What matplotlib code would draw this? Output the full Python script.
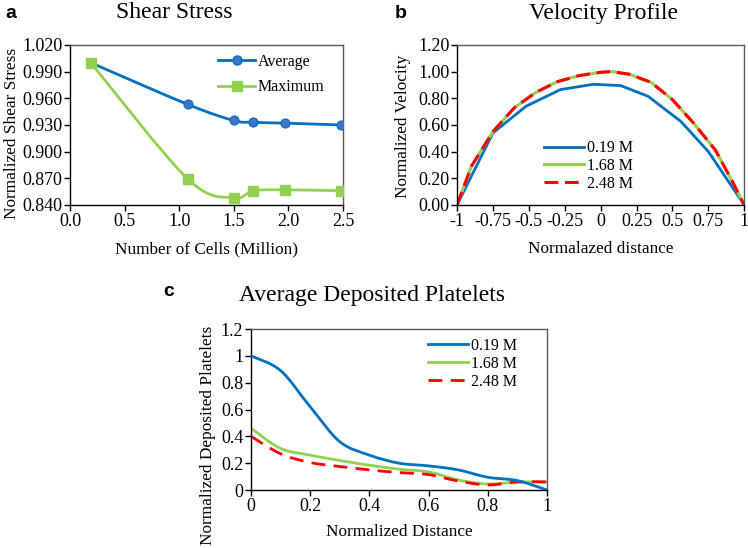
import numpy as np
import matplotlib
matplotlib.use("Agg")
import matplotlib.pyplot as plt
from matplotlib.path import Path
from matplotlib.patches import PathPatch
from matplotlib.lines import Line2D

plt.rcParams['font.family'] = ['Liberation Serif', 'DejaVu Serif']
plt.rcParams['axes.unicode_minus'] = False

# (a) shear stress vs mesh size
cells = [0.19, 1.08, 1.50, 1.68, 1.97, 2.48]
shear_avg = [1.000, 0.953, 0.935, 0.933, 0.932, 0.930]
shear_max = [1.000, 0.869, 0.848, 0.856, 0.857, 0.856]

# (b) velocity profile
vel_x_019 = [-1.0, -0.75, -0.52, -0.28, -0.05, 0.14, 0.33, 0.56, 0.75, 1.0]
vel_019 = [0.0, 0.54, 0.74, 0.865, 0.905, 0.895, 0.815, 0.625, 0.40, 0.0]
vel_x = [-1.0, -0.9, -0.75, -0.6, -0.45, -0.3, -0.15, 0.0, 0.08, 0.2, 0.35, 0.5, 0.65, 0.8, 0.92, 1.0]
vel_168 = [0.0, 0.29, 0.55, 0.73, 0.845, 0.925, 0.97, 0.995, 1.0, 0.98, 0.92, 0.79, 0.61, 0.41, 0.17, 0.0]
vel_248 = [0.0, 0.29, 0.55, 0.73, 0.845, 0.925, 0.97, 0.995, 1.0, 0.98, 0.92, 0.79, 0.61, 0.41, 0.17, 0.0]

# (c) deposited platelets
dist = [0.0, 0.1, 0.2, 0.3, 0.4, 0.5, 0.6, 0.7, 0.8, 0.9, 1.0]
plt_019 = [1.0, 0.89, 0.62, 0.36, 0.26, 0.20, 0.18, 0.15, 0.095, 0.07, 0.0]
plt_168 = [0.46, 0.31, 0.26, 0.22, 0.185, 0.155, 0.135, 0.075, 0.045, 0.06, 0.06]
plt_248 = [0.40, 0.27, 0.205, 0.175, 0.15, 0.13, 0.115, 0.067, 0.038, 0.06, 0.06]

blue = '#0070C0'
blue_mk = '#4472C4'
green = '#92D050'
red = '#FF0000'


def smooth_line(ax, x, y, **kw):
    # Excel style smoothed line: cubic bezier through the points
    x = np.asarray(x, float)
    y = np.asarray(y, float)
    p = np.column_stack([x, y])
    n = len(p)
    verts = [p[0]]
    codes = [Path.MOVETO]
    for i in range(n - 1):
        p0 = p[i - 1] if i > 0 else p[i]
        p3 = p[i + 2] if i + 2 < n else p[i + 1]
        c1 = p[i] + (p[i + 1] - p0) / 6
        c2 = p[i + 1] - (p3 - p[i]) / 6
        verts += [c1, c2, p[i + 1]]
        codes += [Path.CURVE4] * 3
    patch = PathPatch(Path(verts, codes), fill=False, **kw)
    ax.add_patch(patch)
    return patch


def style_axes(ax):
    for s in ['left', 'bottom']:
        ax.spines[s].set_color('#000000')
    for s in ['top', 'right']:
        ax.spines[s].set_color('#595959')
    for s in ax.spines.values():
        s.set_linewidth(1.0)
    ax.tick_params(direction='out', length=4, width=1, labelsize=13, pad=1.5)


LAB = 12.4
fig = plt.figure(figsize=(7.48, 5.48), dpi=100)

# ---------- a ----------
ax1 = fig.add_axes([0.0936, 0.626, 0.365, 0.292])
smooth_line(ax1, cells, shear_avg, edgecolor=blue, lw=2.0, zorder=2)
smooth_line(ax1, cells, shear_max, edgecolor=green, lw=2.0, zorder=2)
ax1.plot(cells, shear_avg, 'o', ms=6.5, mfc=blue_mk, mec=blue, mew=0.8, zorder=3)
ax1.plot(cells, shear_max, 's', ms=6.5, mfc=green, mec=green, zorder=3)
ax1.set_xlim(0, 2.5)
ax1.set_ylim(0.84, 1.02)
ax1.set_xticks(np.arange(0, 2.51, 0.5))
ax1.set_yticks(np.arange(0.84, 1.021, 0.03))
ax1.xaxis.set_major_formatter('{x:.1f}')
ax1.yaxis.set_major_formatter('{x:.3f}')
style_axes(ax1)
ax1.set_xlabel('Number of Cells (Million)', fontsize=LAB)
ax1.set_ylabel('Normalized Shear Stress', fontsize=LAB)
ax1.xaxis.set_label_coords(0.5, -0.225)
ax1.yaxis.set_label_coords(-0.185, 0.45)
h1 = [Line2D([], [], color=blue, lw=2, marker='o', ms=6.5, mfc=blue_mk, mec=blue),
      Line2D([], [], color=green, lw=2, marker='s', ms=6.5, mfc=green, mec=green)]
ax1.legend(h1, ['Average', 'Maximum'], loc='upper left', frameon=False,
           fontsize=11.5, handlelength=2.3, borderaxespad=0, labelspacing=0.6,
           handletextpad=0.15, bbox_to_anchor=(0.52, 0.985))

# ---------- b ----------
ax2 = fig.add_axes([0.611, 0.626, 0.384, 0.292])
ax2.plot(vel_x_019, vel_019, color=blue, lw=2.0, label='0.19 M')
ax2.plot(vel_x, vel_168, color=green, lw=2.2, label='1.68 M')
ax2.plot(vel_x, vel_248, color=red, lw=2.2, dashes=(4.5, 2.2), label='2.48 M')
ax2.set_xlim(-1, 1)
ax2.set_ylim(0, 1.2)
bx = [-1, -0.75, -0.5, -0.25, 0, 0.25, 0.5, 0.75, 1]
ax2.set_xticks(bx)
ax2.set_xticklabels(['-1', '-0.75', '-0.5', '-0.25', '0', '0.25', '0.5', '0.75', '1'])
ax2.set_yticks(np.arange(0, 1.21, 0.2))
ax2.yaxis.set_major_formatter('{x:.2f}')
style_axes(ax2)
ax2.set_xlabel('Normalazed distance', fontsize=LAB)
ax2.set_ylabel('Normalized Velocity', fontsize=LAB)
ax2.xaxis.set_label_coords(0.5, -0.225)
ax2.yaxis.set_label_coords(-0.16, 0.49)
ax2.legend(loc='upper left', bbox_to_anchor=(0.28, 0.445), frameon=False, borderaxespad=0,
           fontsize=11.5, handlelength=2.5, labelspacing=0.12, handletextpad=0.2)

# ---------- c ----------
ax3 = fig.add_axes([0.3356, 0.1058, 0.3957, 0.2938])
smooth_line(ax3, dist, plt_019, edgecolor=blue, lw=2.0, zorder=3)
smooth_line(ax3, dist, plt_168, edgecolor=green, lw=2.0, zorder=2)
smooth_line(ax3, dist, plt_248, edgecolor=red, lw=2.0, linestyle=(0, (5, 3)), zorder=2)
ax3.set_xlim(0, 1)
ax3.set_ylim(0, 1.2)
ax3.set_xticks([0, 0.2, 0.4, 0.6, 0.8, 1.0])
ax3.set_xticklabels(['0', '0.2', '0.4', '0.6', '0.8', '1'])
ax3.set_yticks([0, 0.2, 0.4, 0.6, 0.8, 1.0, 1.2])
ax3.set_yticklabels(['0', '0.2', '0.4', '0.6', '0.8', '1', '1.2'])
style_axes(ax3)
ax3.set_xlabel('Normalized Distance', fontsize=LAB)
ax3.set_ylabel('Normalized Deposited Platelets', fontsize=LAB)
ax3.xaxis.set_label_coords(0.5, -0.21)
ax3.yaxis.set_label_coords(-0.12, 0.34)
h3 = [Line2D([], [], color=blue, lw=2),
      Line2D([], [], color=green, lw=2),
      Line2D([], [], color=red, lw=2, dashes=(5, 3))]
ax3.legend(h3, ['0.19 M', '1.68 M', '2.48 M'], loc='upper left', frameon=False,
           fontsize=11.5, handlelength=2.5, labelspacing=0.12, handletextpad=0.2,
           bbox_to_anchor=(0.575, 0.985), borderaxespad=0)

# titles and panel letters
fig.text(0.233, 1 - 13 / 548, 'Shear Stress', fontsize=17, ha='center', va='center')
fig.text(0.807, 1 - 13 / 548, 'Velocity Profile', fontsize=17, ha='center', va='center')
fig.text(0.497, 1 - 295 / 548, 'Average Deposited Platelets', fontsize=17, ha='center', va='center')
for lt, xx, yy in [('a', 11, 13), ('b', 401, 13), ('c', 169, 291)]:
    fig.text(xx / 748, 1 - yy / 548, lt, fontsize=14, fontweight='bold',
             family='Liberation Sans', ha='center', va='center')

fig.savefig('out.png', dpi=100)
